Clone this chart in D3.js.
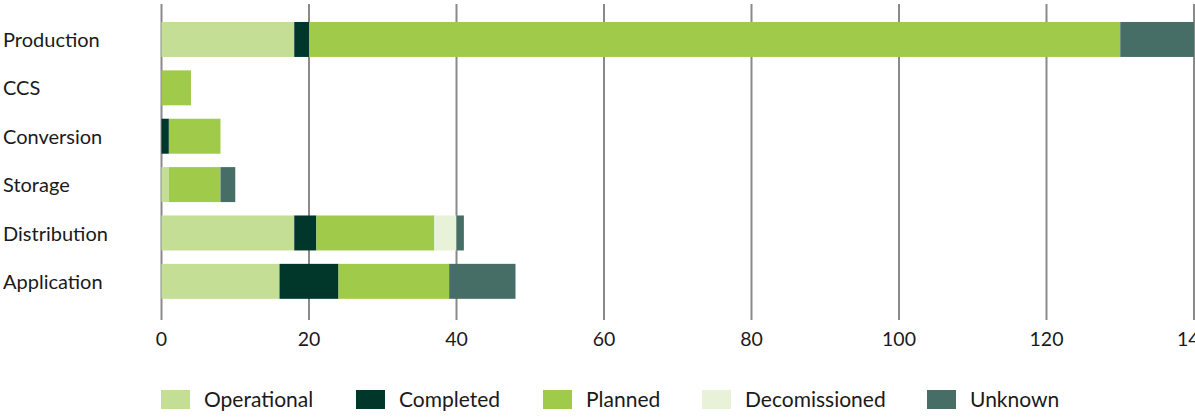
<!DOCTYPE html>
<html>
<head>
<meta charset="utf-8">
<script src="https://cdn.jsdelivr.net/npm/d3@7"></script>
<style>
  body { margin: 0; background: #fff; }
  text { font-family: Lato, "Open Sans", sans-serif; fill: #1a1a1a; }
</style>
</head>
<body>
<script>
// data
var categories = ['Production', 'CCS', 'Conversion', 'Storage', 'Distribution', 'Application'];
var statuses = ['Operational', 'Completed', 'Planned', 'Decomissioned', 'Unknown'];
var operational = [18, 0, 0, 1, 18, 16];
var completed = [2, 0, 1, 0, 3, 8];
var planned = [110, 4, 7, 7, 16, 15];
var decomissioned = [0, 0, 0, 0, 3, 0];
var unknown = [10, 0, 0, 2, 1, 9];
var xTicks = [0, 20, 40, 60, 80, 100, 120, 140];

var colors = ['#c5de95', '#00372b', '#a0cb4a', '#e8f2d8', '#476e66'];

var width = 1195, height = 417;
var svg = d3.select('body').append('svg')
    .attr('width', width).attr('height', height);

var x = d3.scaleLinear().domain([0, 140]).range([161.5, 1194]);
var y = d3.scaleBand().domain(categories).range([15.2, 305.6]).paddingInner(0.277).paddingOuter(0.14);

var rows = categories.map(function(c, i) {
    return { cat: c, Operational: operational[i], Completed: completed[i], Planned: planned[i],
             Decomissioned: decomissioned[i], Unknown: unknown[i] };
});
var series = d3.stack().keys(statuses)(rows);

// gridlines
svg.append('g').selectAll('line')
    .data(xTicks).enter().append('line')
    .attr('x1', function(d) { return x(d); })
    .attr('x2', function(d) { return x(d); })
    .attr('y1', 4).attr('y2', 320)
    .attr('stroke', '#8a8a8a').attr('stroke-width', 2);

// bars
svg.append('g').selectAll('g')
    .data(series).enter().append('g')
    .attr('fill', function(d, i) { return colors[i]; })
    .selectAll('rect')
    .data(function(d) { return d; }).enter().append('rect')
    .attr('x', function(d) { return x(d[0]); })
    .attr('width', function(d) { return x(d[1]) - x(d[0]); })
    .attr('y', function(d) { return y(d.data.cat); })
    .attr('height', y.bandwidth());

// category labels
svg.append('g').selectAll('text')
    .data(categories).enter().append('text')
    .attr('x', 3)
    .attr('y', function(d) { return y(d) + y.bandwidth() / 2; })
    .attr('dy', '0.38em')
    .style('font-size', '20px')
    .text(function(d) { return d; });

// tick labels
svg.append('g').selectAll('text')
    .data(xTicks).enter().append('text')
    .attr('x', function(d) { return x(d); })
    .attr('y', 346)
    .attr('text-anchor', 'middle')
    .style('font-size', '19.5px')
    .text(function(d) { return d; });

// legend
var legendX = [161, 356, 543, 702, 927];
var legend = svg.append('g').selectAll('g')
    .data(statuses).enter().append('g')
    .attr('transform', function(d, i) { return 'translate(' + legendX[i] + ',390)'; });
legend.append('rect')
    .attr('width', 29).attr('height', 19)
    .attr('fill', function(d, i) { return colors[i]; });
legend.append('text')
    .attr('x', 43).attr('y', 17)
    .style('font-size', '21px')
    .text(function(d) { return d; });
</script>
</body>
</html>
